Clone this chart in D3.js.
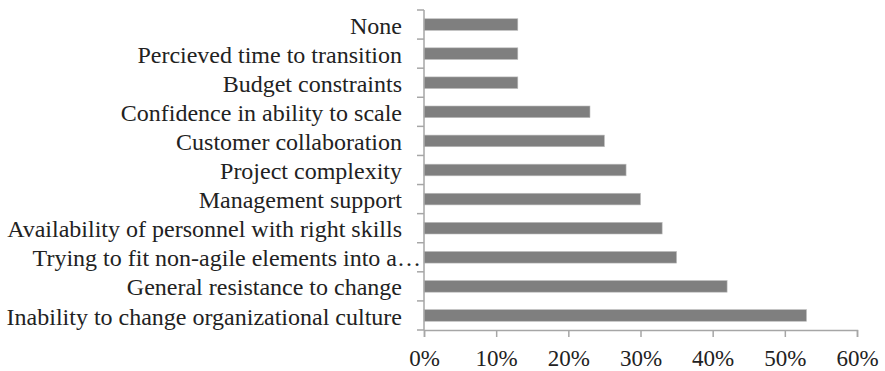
<!DOCTYPE html>
<html>
<head>
<meta charset="utf-8">
<script src="https://cdn.jsdelivr.net/npm/d3@7"></script>
<style>
  body { margin: 0; background: #fff; }
  svg text { font-family: "Liberation Serif", "Times New Roman", serif; fill: #222; }
</style>
</head>
<body>
<svg id="chart" width="885" height="371"></svg>
<script>
// Obstacles to scaling agile — share of respondents
const categories = [
  "None",
  "Percieved time to transition",
  "Budget constraints",
  "Confidence in ability to scale",
  "Customer collaboration",
  "Project complexity",
  "Management support",
  "Availability of personnel with right skills",
  "Trying to fit non-agile elements into a…",
  "General resistance to change",
  "Inability to change organizational culture"
];
const values = [13, 13, 13, 23, 25, 28, 30, 33, 35, 42, 53];
const xTicks = [0, 10, 20, 30, 40, 50, 60];

const svg = d3.select("#chart");
const margin = { left: 424, right: 28, top: 10, bottom: 41 };
const W = 885, H = 371;

const x = d3.scaleLinear().domain([0, 60]).range([margin.left, W - margin.right]);
const y = d3.scaleBand().domain(categories).range([margin.top, H - margin.bottom])
  .paddingInner(0.6).paddingOuter(0.3);
const yEdges = d3.scaleLinear().domain([0, categories.length]).range([margin.top, H - margin.bottom]);

const axisColor = "#a6a6a6";

// bars
svg.append("g").selectAll("rect")
  .data(categories)
  .join("rect")
  .attr("x", x(0))
  .attr("y", d => y(d))
  .attr("width", (d, i) => x(values[i]) - x(0))
  .attr("height", y.bandwidth())
  .attr("fill", "#7f7f7f")
  .attr("stroke", "#bdbdbd")
  .attr("stroke-width", 0.6);

// vertical category axis with tick marks at band edges
const yAxis = svg.append("g");
yAxis.append("line")
  .attr("x1", x(0)).attr("x2", x(0))
  .attr("y1", yEdges(0)).attr("y2", yEdges(categories.length))
  .attr("stroke", axisColor).attr("stroke-width", 1.5);
yAxis.selectAll("line.tick")
  .data(d3.range(categories.length + 1))
  .join("line")
  .attr("class", "tick")
  .attr("x1", x(0) - 7).attr("x2", x(0))
  .attr("y1", d => yEdges(d)).attr("y2", d => yEdges(d))
  .attr("stroke", axisColor).attr("stroke-width", 1.5);

// category labels (the truncated one overhangs the tick marks)
yAxis.selectAll("text")
  .data(categories)
  .join("text")
  .attr("x", d => d.endsWith("…") ? 421 : 402)
  .attr("y", d => y(d) + y.bandwidth() / 2)
  .attr("dy", "0.38em")
  .attr("text-anchor", "end")
  .attr("font-size", 24)
  .text(d => d);

// horizontal value axis
const xAxis = d3.axisBottom(x)
  .tickValues(xTicks)
  .tickFormat(d => d + "%")
  .tickSize(7)
  .tickPadding(13);
const gx = svg.append("g")
  .attr("transform", `translate(0,${yEdges(categories.length)})`)
  .call(xAxis);
gx.select(".domain").attr("stroke", axisColor).attr("stroke-width", 1.5);
gx.selectAll(".tick line").attr("stroke", axisColor).attr("stroke-width", 1.5);
gx.selectAll(".tick text")
  .attr("font-size", 23)
  .attr("font-family", "Liberation Serif, Times New Roman, serif")
  .attr("fill", "#222");
</script>
</body>
</html>
